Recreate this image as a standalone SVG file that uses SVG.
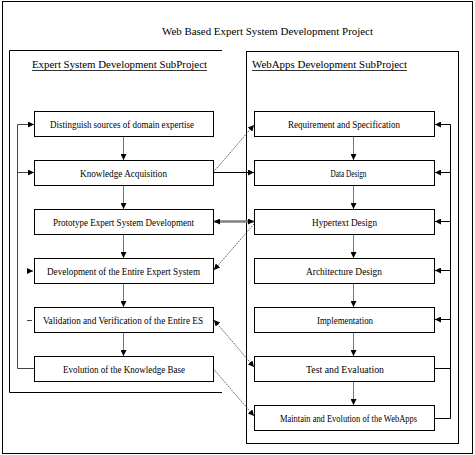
<svg xmlns="http://www.w3.org/2000/svg" width="475" height="455" viewBox="0 0 475 455">
<defs>
<style>
.frame{fill:none;stroke:#000;stroke-width:1}
.box rect{fill:#fff;stroke:#000;stroke-width:1}
.box text{font-family:"Liberation Serif","Times New Roman",serif;font-size:9.5px;text-anchor:middle;fill:#000}
.title{font-family:"Liberation Serif","Times New Roman",serif;font-size:11px;fill:#000}
.flow{stroke:#777;stroke-width:1;fill:none}
.fb{stroke:#444;stroke-width:1;fill:none}
.dot{stroke:#333;stroke-width:0.8;stroke-dasharray:1.5,1;fill:none}
.solid{stroke:#000;stroke-width:1;fill:none}
.thick{stroke:#808080;stroke-width:2.5;fill:none}
</style>
<marker id="ah" viewBox="0 0 6 6" refX="6" refY="3" markerWidth="6" markerHeight="6" markerUnits="userSpaceOnUse" orient="auto-start-reverse">
<path d="M0,0 L6,3 L0,6 z" fill="#000"/>
</marker>
</defs>
<rect class="frame" x="2.5" y="1.5" width="470" height="452"/>
<text class="title" x="267.5" y="35" text-anchor="middle" textLength="211" lengthAdjust="spacingAndGlyphs">Web Based Expert System Development Project</text>
<g id="es-subproject">
<path class="frame" d="M222,50.5 H9.5 V392.5 H222"/>
<text class="title" x="32" y="68" textLength="175" lengthAdjust="spacingAndGlyphs">Expert System Development SubProject</text>
<line x1="32" y1="70.5" x2="207" y2="70.5" stroke="#000" stroke-width="0.8"/>
</g>
<g id="web-subproject">
<rect class="frame" x="246.5" y="51.5" width="212" height="392"/>
<text class="title" x="252" y="68" textLength="155" lengthAdjust="spacingAndGlyphs">WebApps Development SubProject</text>
<line x1="252" y1="70.5" x2="407" y2="70.5" stroke="#000" stroke-width="0.8"/>
</g>
<g id="connectors">
<line class="flow" x1="123.5" y1="136" x2="123.5" y2="160" marker-end="url(#ah)"/>
<line class="flow" x1="123.5" y1="185" x2="123.5" y2="209" marker-end="url(#ah)"/>
<line class="flow" x1="123.5" y1="234" x2="123.5" y2="258" marker-end="url(#ah)"/>
<line class="flow" x1="123.5" y1="283" x2="123.5" y2="307" marker-end="url(#ah)"/>
<line class="flow" x1="123.5" y1="332" x2="123.5" y2="356" marker-end="url(#ah)"/>
<line class="flow" x1="353.5" y1="136" x2="353.5" y2="160" marker-end="url(#ah)"/>
<line class="flow" x1="353.5" y1="185" x2="353.5" y2="209" marker-end="url(#ah)"/>
<line class="flow" x1="353.5" y1="234" x2="353.5" y2="258" marker-end="url(#ah)"/>
<line class="flow" x1="353.5" y1="283" x2="353.5" y2="307" marker-end="url(#ah)"/>
<line class="flow" x1="353.5" y1="332" x2="353.5" y2="356" marker-end="url(#ah)"/>
<line class="flow" x1="353.5" y1="381" x2="353.5" y2="405" marker-end="url(#ah)"/>
<polyline class="fb" points="34,368.5 17.5,368.5 17.5,124.5 34,124.5" marker-end="url(#ah)"/>
<line class="fb" x1="17.5" y1="172.5" x2="34" y2="172.5" marker-end="url(#ah)"/>
<line class="fb" x1="27" y1="271" x2="33" y2="271" marker-end="url(#ah)"/>
<line class="fb" x1="27" y1="320.5" x2="32" y2="320.5"/>
<polyline class="solid" points="434.5,418.5 450.5,418.5 450.5,124.5 435,124.5" marker-end="url(#ah)"/>
<line class="solid" x1="450.5" y1="172.5" x2="435" y2="172.5" marker-end="url(#ah)"/>
<line class="solid" x1="450.5" y1="221.5" x2="435" y2="221.5" marker-end="url(#ah)"/>
<line class="solid" x1="450.5" y1="270.5" x2="435" y2="270.5" marker-end="url(#ah)"/>
<line class="solid" x1="450.5" y1="319.5" x2="435" y2="319.5" marker-end="url(#ah)"/>
<line class="solid" x1="450.5" y1="368.5" x2="434.5" y2="368.5"/>
<line class="dot" x1="213.5" y1="172" x2="254" y2="125" marker-end="url(#ah)"/>
<line class="solid" x1="213.5" y1="172.5" x2="254" y2="172.5" marker-end="url(#ah)"/>
<line class="thick" x1="214" y1="221.5" x2="254" y2="221.5" marker-start="url(#ah)" marker-end="url(#ah)"/>
<line class="dot" x1="254" y1="224" x2="214" y2="270" marker-end="url(#ah)"/>
<line class="dot" x1="214" y1="320" x2="254" y2="367" marker-start="url(#ah)" marker-end="url(#ah)"/>
<line class="dot" x1="213.5" y1="369" x2="254" y2="416" marker-end="url(#ah)"/>
</g>
<g id="n-distinguish" class="box"><rect x="34.5" y="111.5" width="179" height="25"/><text x="122" y="128" textLength="144" lengthAdjust="spacingAndGlyphs">Distinguish sources of domain expertise</text></g>
<g id="n-knowledge" class="box"><rect x="34.5" y="160.5" width="179" height="25"/><text x="123.5" y="177" textLength="87" lengthAdjust="spacingAndGlyphs">Knowledge Acquisition</text></g>
<g id="n-prototype" class="box"><rect x="34.5" y="209.5" width="179" height="25"/><text x="123.5" y="226" textLength="141" lengthAdjust="spacingAndGlyphs">Prototype Expert System Development</text></g>
<g id="n-development" class="box"><rect x="34.5" y="258.5" width="179" height="25"/><text x="123.5" y="275" textLength="153" lengthAdjust="spacingAndGlyphs">Development of the Entire Expert System</text></g>
<g id="n-validation" class="box"><rect x="34.5" y="307.5" width="179" height="25"/><text x="123" y="324" textLength="160" lengthAdjust="spacingAndGlyphs">Validation and Verification of the Entire ES</text></g>
<g id="n-evolution" class="box"><rect x="34.5" y="356.5" width="179" height="25"/><text x="124" y="373" textLength="122" lengthAdjust="spacingAndGlyphs">Evolution of the Knowledge Base</text></g>
<g id="n-requirement" class="box"><rect x="254.5" y="111.5" width="180" height="25"/><text x="344" y="128" textLength="112" lengthAdjust="spacingAndGlyphs">Requirement and Specification</text></g>
<g id="n-data" class="box"><rect x="254.5" y="160.5" width="180" height="25"/><text x="348.5" y="177" textLength="36" lengthAdjust="spacingAndGlyphs">Data Design</text></g>
<g id="n-hypertext" class="box"><rect x="254.5" y="209.5" width="180" height="25"/><text x="344.5" y="226" textLength="65" lengthAdjust="spacingAndGlyphs">Hypertext Design</text></g>
<g id="n-architecture" class="box"><rect x="254.5" y="258.5" width="180" height="25"/><text x="344" y="275" textLength="76" lengthAdjust="spacingAndGlyphs">Architecture Design</text></g>
<g id="n-implementation" class="box"><rect x="254.5" y="307.5" width="180" height="25"/><text x="345" y="324" textLength="56" lengthAdjust="spacingAndGlyphs">Implementation</text></g>
<g id="n-test" class="box"><rect x="254.5" y="356.5" width="180" height="25"/><text x="345" y="373" textLength="78" lengthAdjust="spacingAndGlyphs">Test and Evaluation</text></g>
<g id="n-maintain" class="box"><rect x="254.5" y="405.5" width="180" height="25"/><text x="348.5" y="422" textLength="137" lengthAdjust="spacingAndGlyphs">Maintain and Evolution of the WebApps</text></g>
</svg>
